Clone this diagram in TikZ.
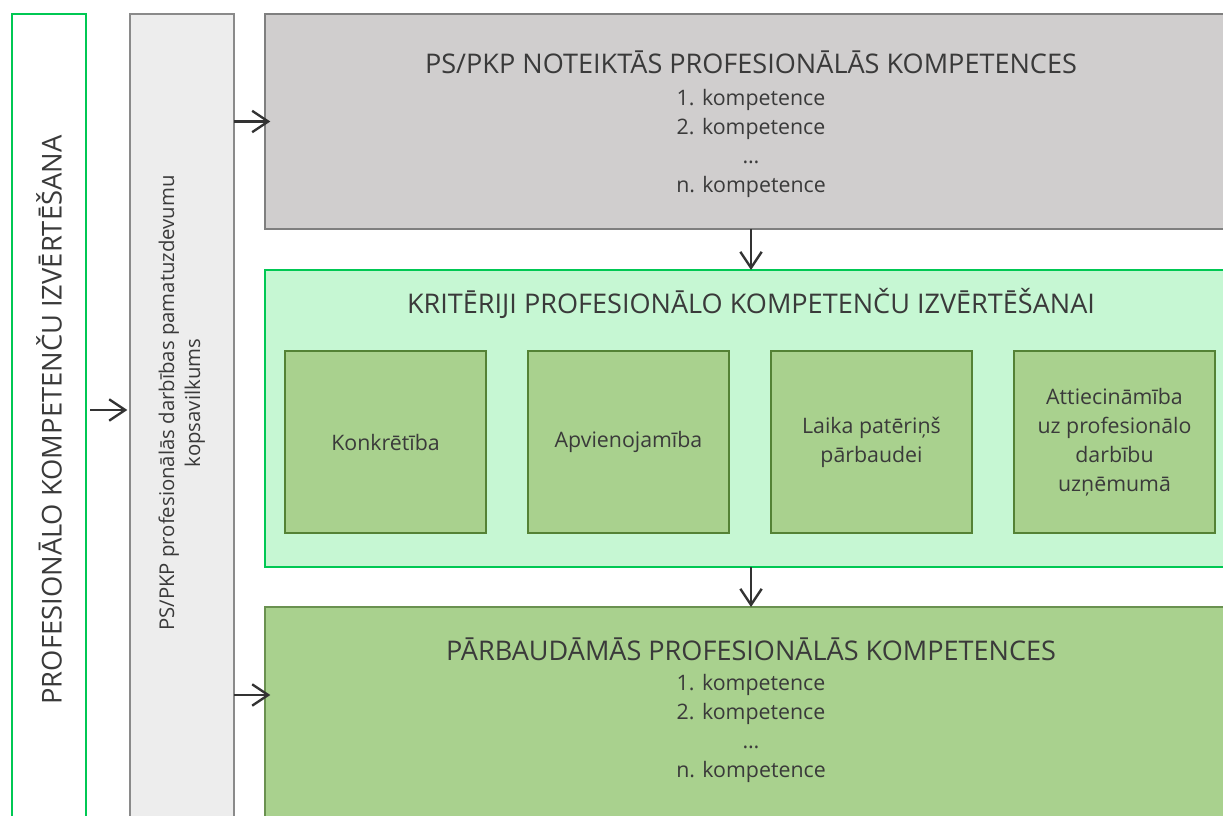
\documentclass[tikz,border=0pt]{standalone}
\usepackage{fontspec}
\setmainfont{Open Sans}
\usetikzlibrary{arrows.meta}
\definecolor{txtgray}{HTML}{3A3A3A}
\definecolor{arrowgray}{HTML}{333333}
\definecolor{sidegreen}{HTML}{00C853}
\definecolor{lightgrayfill}{HTML}{EDEDED}
\definecolor{lightgrayline}{HTML}{8A8A8A}
\definecolor{topfill}{HTML}{D0CECE}
\definecolor{topline}{HTML}{7F7F7F}
\definecolor{midfill}{HTML}{C6F7D3}
\definecolor{midline}{HTML}{00C853}
\definecolor{critfill}{HTML}{A9D18E}
\definecolor{critline}{HTML}{548235}
\definecolor{botline}{HTML}{6A9150}

\begin{document}
\begin{tikzpicture}[x=0.75pt,y=-0.75pt]
          \tikzset{BoxStyle/.style = {
              shape = rectangle,
              draw,
              line width = 1.5pt,
              inner sep = 0pt,
              outer sep = 0pt,
              text = txtgray,
              align = center},
            TitleStyle/.style = {
              text = txtgray,
              align = center,
              font = \fontsize{20.3}{26}\selectfont},
            ListStyle/.style = {
              text = txtgray,
              align = center,
              font = \fontsize{16}{21.75}\selectfont},
            ArrowStyle/.style = {
              draw = arrowgray,
              line width = 1.8pt,
              -{Straight Barb[length=12pt,width=16pt]}}}
          \clip (0,0) rectangle (1223,816);
          % side columns
          \node[BoxStyle, draw=sidegreen, fill=white, minimum width=55.5pt, minimum height=609pt,
                font=\fontsize{20.5}{26}\selectfont] (side) at (49,420)
                {\rotatebox{90}{PROFESIONĀLO KOMPETENČU IZVĒRTĒŠANA}};
          \node[BoxStyle, draw=lightgrayline, fill=lightgrayfill, minimum width=78pt, minimum height=609pt] (summary) at (182,420) {};
          \node[ListStyle, font=\fontsize{15.25}{19.5}\selectfont] (summarytext) at (182,403)
                {\rotatebox{90}{\begin{tabular}{@{}c@{}}PS/PKP profesionālās darbības pamatuzdevumu\\kopsavilkums\end{tabular}}};
          % right column
          \node[BoxStyle, draw=topline, fill=topfill, minimum width=729pt, minimum height=161.25pt] (defined) at (751,121.5) {};
          \node[ListStyle] (definedtext) at (751,124)
                {{\fontsize{20.3}{26}\selectfont PS/PKP NOTEIKTĀS PROFESIONĀLĀS KOMPETENCES}\\[2.5pt]
                 1. kompetence\\2. kompetence\\…\\n. kompetence};
          \node[BoxStyle, draw=midline, fill=midfill, minimum width=729pt, minimum height=222.75pt] (criteria) at (751,418.5) {};
          \node[TitleStyle] (criteriatitle) at (751,303) {KRITĒRIJI PROFESIONĀLO KOMPETENČU IZVĒRTĒŠANAI};
          \foreach \n/\x/\t in {1/385.5/Konkrētība,
                                2/628.5/Apvienojamība,
                                3/871.5/{Laika patēriņš\\pārbaudei},
                                4/1114.5/{Attiecināmība\\uz profesionālo\\darbību\\uzņēmumā}}{
            \node[BoxStyle, draw=critline, fill=critfill, minimum width=150.75pt, minimum height=136.5pt,
                  font=\fontsize{16}{21.75}\selectfont] (crit\n) at (\x,442) {\t};
          }
          \node[BoxStyle, draw=botline, fill=critfill, minimum width=729pt, minimum height=161.25pt] (tested) at (751,714.5) {};
          \node[ListStyle] (testedtext) at (751,710)
                {{\fontsize{20.3}{26}\selectfont PĀRBAUDĀMĀS PROFESIONĀLĀS KOMPETENCES}\\[1pt]
                 1. kompetence\\2. kompetence\\…\\n. kompetence};
          % arrows
          \draw[ArrowStyle, shorten <=3pt, shorten >=2pt] (side.east |- 0,410) -- (summary.west |- 0,410);
          \draw[ArrowStyle, shorten >=-4pt] (summary.east |- defined) -- (defined.west);
          \draw[ArrowStyle, shorten >=-4pt] (summary.east |- 0,695) -- (tested.west |- 0,695);
          \draw[ArrowStyle] (defined.south) -- (criteria.north);
          \draw[ArrowStyle] (criteria.south) -- (tested.north);
        \end{tikzpicture}
\end{document}
